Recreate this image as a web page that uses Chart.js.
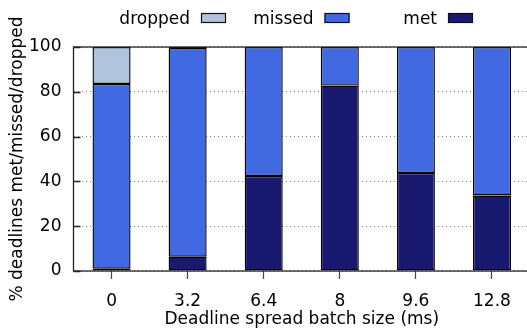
<!DOCTYPE html>
<html>
<head>
<meta charset="utf-8">
<script src="https://cdn.jsdelivr.net/npm/chart.js@4/dist/chart.umd.min.js"></script>
<style>
  html, body { margin: 0; padding: 0; background: #fff; overflow: hidden; }
  canvas { display: block; }
</style>
</head>
<body>
<canvas id="c" width="530" height="328"></canvas>
<script>
// Batch sizes (ms) and the share of deadlines in each outcome (%)
const batchSizes = ['0', '3.2', '6.4', '8', '9.6', '12.8'];
const metPct     = [1.0, 6.4, 42.4, 82.8, 43.8, 33.7];
const missedPct  = [82.5, 93.1, 57.6, 17.2, 56.2, 66.3];
const droppedPct = [16.5, 0.5, 0, 0, 0, 0];
const yTicks     = [0, 20, 40, 60, 80, 100];

const FONT = 'DejaVu Sans';
const FS = 17;

// Legend drawn gnuplot-style: label first, then a framed swatch
const keyPlugin = {
  id: 'key',
  afterDraw(chart) {
    const ctx = chart.ctx;
    const order = [2, 1, 0]; // dropped, missed, met
    ctx.save();
    ctx.font = FS + 'px "' + FONT + '"';
    ctx.textAlign = 'right';
    ctx.textBaseline = 'alphabetic';
    order.forEach((di, i) => {
      const ds = chart.data.datasets[di];
      const bx = 201 + i * 123.5;
      ctx.fillStyle = '#000';
      ctx.fillText(ds.label, bx - 11, 24);
      ctx.fillStyle = ds.backgroundColor;
      ctx.fillRect(bx, 13, 25, 10);
      ctx.strokeStyle = '#111';
      ctx.lineWidth = 1.2;
      ctx.strokeRect(bx + 0.5, 13.5, 24, 9);
    });
    ctx.restore();
  }
};

// Plot frame plus short inward ticks on the value axis
const framePlugin = {
  id: 'frame',
  afterDatasetsDraw(chart) {
    const { ctx, chartArea: a } = chart;
    const y = chart.scales.y;
    ctx.save();
    ctx.strokeStyle = '#222';
    ctx.lineWidth = 1.3;
    ctx.strokeRect(a.left, a.top, a.right - a.left, a.bottom - a.top);
    ctx.beginPath();
    yTicks.forEach(v => {
      const py = Math.round(y.getPixelForValue(v)) + 0.5;
      ctx.moveTo(a.left, py);
      ctx.lineTo(a.left + 7, py);
    });
    ctx.stroke();
    ctx.restore();
  }
};

const ds = (label, data, color) => ({
  label, data,
  backgroundColor: color,
  borderColor: '#000',
  borderWidth: 1.4,
  borderSkipped: false,
  categoryPercentage: 1.0,
  barPercentage: 0.5
});

new Chart(document.getElementById('c'), {
  type: 'bar',
  data: {
    labels: batchSizes,
    datasets: [
      ds('met', metPct, '#191970'),
      ds('missed', missedPct, '#4169E1'),
      ds('dropped', droppedPct, '#B0C4DE')
    ]
  },
  options: {
    responsive: false,
    animation: false,
    layout: { padding: { top: 47, left: 0, right: 0, bottom: 0 } },
    plugins: { legend: { display: false }, tooltip: { enabled: false } },
    scales: {
      x: {
        stacked: true,
        grid: { offset: false, drawOnChartArea: false, drawTicks: true, tickLength: 8, tickColor: '#444', tickWidth: 1.2 },
        border: { display: false },
        ticks: { color: '#000', font: { family: FONT, size: FS }, padding: 12, maxRotation: 0 },
        title: { display: true, text: 'Deadline spread batch size (ms)', color: '#000',
                 font: { family: FONT, size: FS }, padding: { top: 0, bottom: -2 } },
        afterFit(s) { s.height = 57; }
      },
      y: {
        stacked: true,
        min: 0, max: 100,
        afterBuildTicks(s) { s.ticks = yTicks.map(v => ({ value: v })); },
        grid: { color: '#888', lineWidth: 1, drawTicks: false },
        border: { display: false, dash: [1, 3] },
        ticks: { color: '#000', font: { family: FONT, size: FS }, padding: 12 },
        title: { display: true, text: '% deadlines met/missed/dropped', color: '#000',
                 font: { family: FONT, size: FS }, padding: { top: 7, bottom: 0 } },
        afterFit(s) { s.width = 73.5; }
      }
    }
  },
  plugins: [keyPlugin, framePlugin]
});
</script>
</body>
</html>
